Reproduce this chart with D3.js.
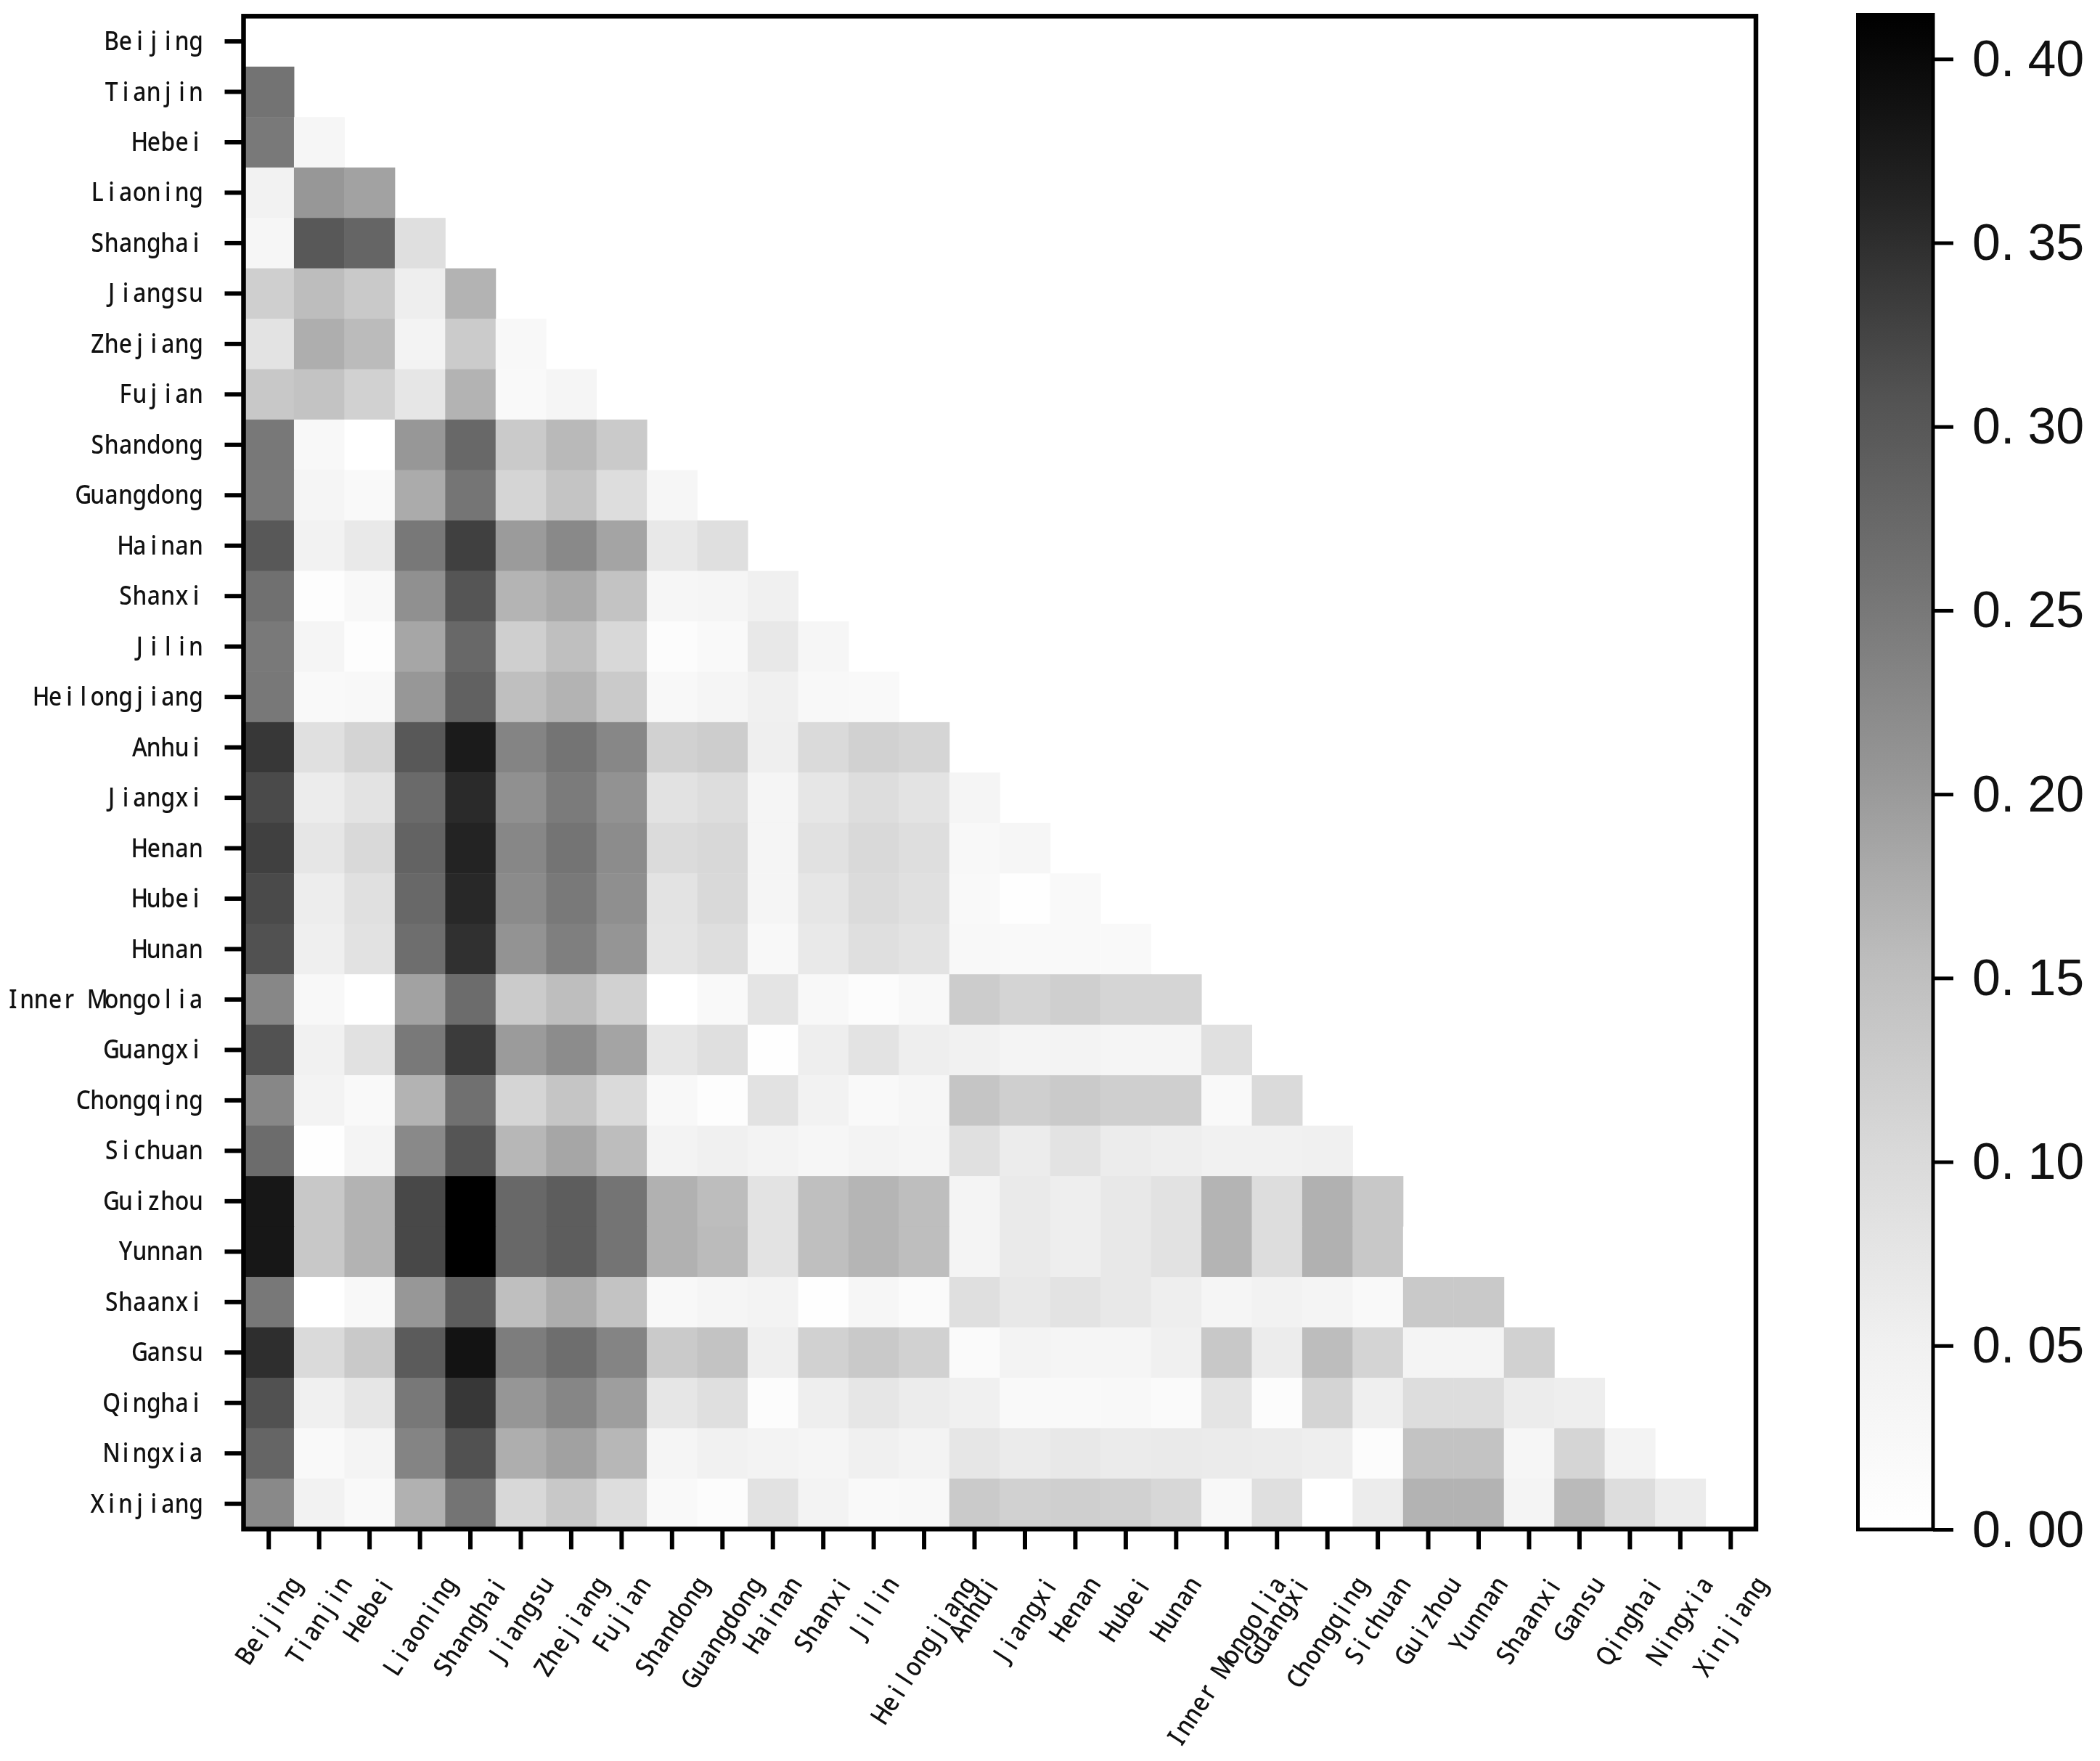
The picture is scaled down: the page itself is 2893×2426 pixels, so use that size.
<!DOCTYPE html>
<html>
<head>
<meta charset="utf-8">
<script src="https://cdn.jsdelivr.net/npm/d3@7"></script>
<style>
    html, body { margin: 0; padding: 0; background: #fff; }
    svg { display: block; filter: blur(0.7px); }
    text { font-family: "Noto Sans", sans-serif; fill: #111; }
</style>
</head>
<body>
<div id="chart"></div>
<script>
const provinces = ["Beijing", "Tianjin", "Hebei", "Liaoning", "Shanghai", "Jiangsu", "Zhejiang", "Fujian",
    "Shandong", "Guangdong", "Hainan", "Shanxi", "Jilin", "Heilongjiang", "Anhui", "Jiangxi", "Henan", "Hubei",
    "Hunan", "Inner Mongolia", "Guangxi", "Chongqing", "Sichuan", "Guizhou", "Yunnan", "Shaanxi", "Gansu",
    "Qinghai", "Ningxia", "Xinjiang"];

// lower triangle, one list per row
const distances = [
    [],
    [.258],
    [.248, .03],
    [.045, .205, .19],
    [.03, .30, .28, .09],
    [.122, .155, .132, .055, .168],
    [.08, .174, .157, .04, .128, .025],
    [.135, .143, .118, .075, .168, .02, .035],
    [.25, .025, 0, .205, .275, .13, .16, .13],
    [.248, .033, .02, .178, .255, .11, .142, .095, .03],
    [.30, .045, .068, .25, .33, .20, .225, .188, .07, .09],
    [.262, .008, .025, .215, .305, .167, .18, .143, .03, .033, .05],
    [.248, .035, .008, .185, .275, .122, .15, .105, .012, .02, .07, .03],
    [.25, .02, .025, .205, .285, .15, .168, .13, .025, .033, .05, .025, .02],
    [.34, .087, .113, .30, .375, .232, .256, .228, .118, .125, .053, .10, .118, .11],
    [.318, .06, .08, .272, .355, .215, .245, .212, .083, .095, .035, .075, .095, .08, .035],
    [.33, .075, .103, .283, .363, .228, .256, .22, .098, .105, .035, .085, .103, .092, .025, .03],
    [.318, .058, .087, .275, .357, .222, .248, .216, .08, .103, .035, .075, .098, .087, .02, .004, .02],
    [.31, .053, .083, .265, .348, .21, .24, .207, .078, .092, .025, .068, .09, .08, .025, .02, .02, .02],
    [.228, .025, 0, .19, .268, .128, .153, .118, 0, .02, .078, .025, .012, .025, .127, .113, .122, .11, .11],
    [.309, .048, .085, .248, .335, .20, .22, .188, .075, .09, .004, .055, .08, .055, .048, .038, .04, .035, .033, .087],
    [.228, .04, .02, .168, .262, .11, .14, .10, .025, .008, .083, .045, .02, .03, .14, .122, .13, .122, .122, .02, .10],
    [.268, .004, .038, .225, .305, .162, .185, .155, .04, .05, .04, .03, .04, .035, .087, .06, .08, .06, .055, .048, .048, .05],
    [.38, .135, .168, .32, .412, .275, .292, .256, .17, .155, .08, .15, .165, .153, .038, .065, .055, .07, .083, .167, .095, .17, .135],
    [.38, .135, .168, .32, .412, .275, .292, .256, .17, .157, .08, .15, .165, .153, .038, .065, .055, .07, .083, .167, .095, .17, .135, 0],
    [.25, 0, .025, .205, .292, .15, .176, .143, .025, .033, .04, .004, .03, .016, .09, .07, .08, .07, .055, .033, .045, .038, .02, .133, .133],
    [.35, .10, .132, .295, .385, .243, .265, .232, .13, .143, .053, .118, .132, .118, .016, .04, .035, .035, .05, .135, .06, .155, .113, .038, .038, .118],
    [.31, .05, .075, .25, .34, .206, .23, .195, .075, .09, .012, .055, .075, .06, .05, .02, .02, .025, .016, .078, .012, .113, .053, .095, .095, .06, .055],
    [.28, .02, .038, .232, .31, .174, .192, .162, .033, .048, .04, .035, .05, .04, .075, .063, .07, .063, .065, .063, .06, .055, .012, .143, .143, .03, .11, .04],
    [.225, .045, .02, .17, .256, .105, .135, .095, .02, .012, .083, .04, .02, .025, .13, .118, .122, .118, .107, .025, .09, 0, .06, .168, .168, .038, .158, .095, .06]
];

const colorbarTicks = [0, .05, .10, .15, .20, .25, .30, .35, .40];
const colorMax = .412;

const width = 2893, height = 2426;
const plot = { left: 335.5, right: 2419, top: 22.3, bottom: 2106.4 };
const cbar = { left: 2559.5, right: 2663, top: 20.5, bottom: 2107 };

// the heatmap font is half width, every letter sits in its own cell
const charAdvance = 19.4;
const squeeze = 0.88;
const labelSize = 36;

const svg = d3.select("#chart").append("svg")
    .attr("width", width)
    .attr("height", height);

const xScale = d3.scaleBand().domain(provinces).range([plot.left, plot.right]);
const yScale = d3.scaleBand().domain(provinces).range([plot.top, plot.bottom]);

// same stops as the Greys colormap
const greyStops = d3.schemeGreys[9];
const colorScale = d3.scaleLinear()
    .domain(greyStops.map((c, i) => i / (greyStops.length - 1) * colorMax))
    .range(greyStops);

const cells = distances.flatMap((row, r) => row.map((v, c) => ({ row: provinces[r], col: provinces[c], value: v })));

svg.append("g").selectAll("rect")
    .data(cells)
    .enter()
    .append("rect")
    .attr("x", d => xScale(d.col))
    .attr("y", d => yScale(d.row))
    .attr("width", xScale.bandwidth() + 0.5)
    .attr("height", yScale.bandwidth() + 0.5)
    .attr("fill", d => colorScale(d.value));

// per letter x positions, centred in the cell
function charPositions(name, offset) {
    return d3.range(name.length).map(i => ((i * charAdvance + offset) / squeeze).toFixed(1)).join(" ");
}

// y axis
const yAxis = svg.append("g")
    .attr("transform", `translate(${plot.left},0)`)
    .call(d3.axisLeft(yScale).tickSize(26).tickPadding(0));
yAxis.select(".domain").remove();
yAxis.selectAll(".tick line").attr("stroke", "#000").attr("stroke-width", 6);
yAxis.selectAll(".tick text")
    .attr("font-size", labelSize)
    .attr("font-weight", 500)
    .attr("text-anchor", "middle")
    .attr("dy", null)
    .attr("y", 12)
    .attr("transform", `scale(${squeeze},1)`)
    .attr("x", d => charPositions(d, -65.5 - (d.length - 1) * charAdvance));

// x axis, labels rotated about their middle with the top of the box on one line
const labelAngle = 57;
const labelTop = 61;
const rad = labelAngle * Math.PI / 180;
const xAxis = svg.append("g")
    .attr("transform", `translate(0,${plot.bottom})`)
    .call(d3.axisBottom(xScale).tickSize(28).tickPadding(0));
xAxis.select(".domain").remove();
xAxis.selectAll(".tick line").attr("stroke", "#000").attr("stroke-width", 6);
xAxis.selectAll(".tick text")
    .attr("font-size", labelSize)
    .attr("font-weight", 500)
    .attr("text-anchor", "middle")
    .attr("dy", null)
    .attr("y", 12)
    .attr("x", d => charPositions(d, -(d.length - 1) * charAdvance / 2))
    .attr("transform", d => {
        const boxHeight = d.length * charAdvance * Math.sin(rad) + 30 * Math.cos(rad);
        return `translate(0,${labelTop + boxHeight / 2}) rotate(${-labelAngle}) scale(${squeeze},1)`;
    });

// frame goes over the cells
svg.append("rect")
    .attr("x", plot.left)
    .attr("y", plot.top)
    .attr("width", plot.right - plot.left)
    .attr("height", plot.bottom - plot.top)
    .attr("fill", "none")
    .attr("stroke", "#000")
    .attr("stroke-width", 6.5);

// colorbar
const cbarScale = d3.scaleLinear().domain([0, colorMax]).range([cbar.bottom, cbar.top]);

const gradient = svg.append("defs").append("linearGradient")
    .attr("id", "greys")
    .attr("x1", 0).attr("x2", 0).attr("y1", 1).attr("y2", 0);
gradient.selectAll("stop")
    .data(colorScale.domain())
    .enter()
    .append("stop")
    .attr("offset", d => d / colorMax)
    .attr("stop-color", d => colorScale(d));

svg.append("rect")
    .attr("x", cbar.left)
    .attr("y", cbar.top)
    .attr("width", cbar.right - cbar.left)
    .attr("height", cbar.bottom - cbar.top)
    .attr("fill", "url(#greys)")
    .attr("stroke", "#000")
    .attr("stroke-width", 5);

const cbarAxis = svg.append("g")
    .attr("transform", `translate(${cbar.right},0)`)
    .call(d3.axisRight(cbarScale).tickValues(colorbarTicks).tickSize(28).tickPadding(0).tickFormat(d3.format(".2f")));
cbarAxis.select(".domain").remove();
cbarAxis.selectAll(".tick line").attr("stroke", "#000").attr("stroke-width", 5);
cbarAxis.selectAll(".tick text")
    .attr("x", 54)
    .attr("dy", null)
    .attr("y", 23)
    .attr("text-anchor", "start")
    .style("font-family", "'Liberation Sans', sans-serif")
    .attr("font-size", 70)
    .each(function (d) {
        // wide gap after the dot, as in the reference
        const label = d3.format(".2f")(d);
        const t = d3.select(this).text(null);
        t.append("tspan").text(label.slice(0, 2));
        t.append("tspan").attr("dx", 18).text(label.slice(2));
    });
</script>
</body>
</html>
